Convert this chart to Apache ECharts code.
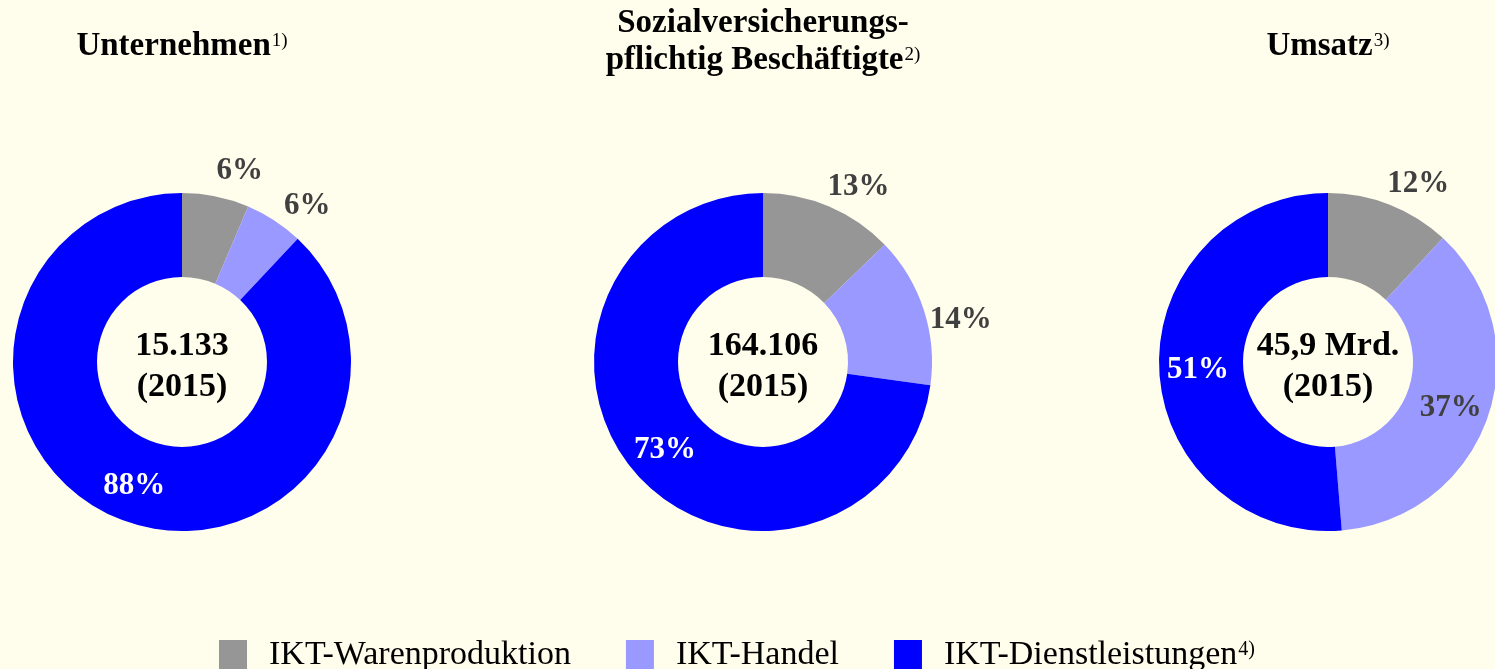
<!DOCTYPE html>
<html>
<head>
<meta charset="utf-8">
<script src="https://cdn.jsdelivr.net/npm/echarts@6/dist/echarts.min.js"></script>
<style>
html, body { margin: 0; padding: 0; background: #FFFDEB; }
#chart { width: 1495px; height: 669px; }
</style>
</head>
<body>
<div id="chart"></div>
<script>
// Kategorien und Anteile (in %)
const categories = ['IKT-Warenproduktion', 'IKT-Handel', 'IKT-Dienstleistungen']
const categoryNotes = ['', '', '4)']
const unternehmen = [6.4, 5.6, 88.0]
const beschaeftigte = [12.8, 14.4, 72.8]
const umsatz = [11.9, 36.8, 51.3]

const panelTitles = ['Unternehmen', 'Sozialversicherungs-\npflichtig Beschäftigte', 'Umsatz']
const panelNotes = ['1)', '2)', '3)']
const centerTexts = ['15.133\n(2015)', '164.106\n(2015)', '45,9 Mrd.\n(2015)']

// welche Anteile stehen außerhalb des Rings
const outsideLabels = [
    [true, true, false],
    [true, true, false],
    [true, false, false]
]

const colors = ['#969696', '#9999FF', '#0000FF']
const insideLabelColors = ['#404040', '#404040', '#FFFFFF']
const font = "'Liberation Serif', 'Times New Roman', serif"
const centersX = [182, 763, 1328]
const centerY = 362
const titleTops = [28, 5, 28]

const panelValues = [unternehmen, beschaeftigte, umsatz]

function pct(params) {
    return Math.round(params.value) + '%'
}

let titles = []
let series = []
panelValues.forEach((values, k) => {
    let lines = panelTitles[k].split('\n').map(l => '{b|' + l + '}')
    lines[lines.length - 1] += '{sup|' + panelNotes[k] + '}'
    titles.push({
        text: lines.join('\n'),
        left: centersX[k],
        top: titleTops[k],
        textAlign: 'center',
        padding: 0,
        textStyle: {
            rich: {
                b: { fontSize: 33, fontWeight: 'bold', lineHeight: 37, color: '#000', fontFamily: font },
                sup: { fontSize: 19, fontWeight: 'normal', lineHeight: 19, verticalAlign: 'top', color: '#000', fontFamily: font, padding: [4, 0, 0, 1] }
            }
        }
    })
    titles.push({
        text: centerTexts[k],
        left: centersX[k],
        top: centerY + 5,
        textAlign: 'center',
        textVerticalAlign: 'middle',
        padding: 0,
        textStyle: { fontSize: 34, fontWeight: 'bold', lineHeight: 41, color: '#000', fontFamily: font }
    })
    series.push({
        type: 'pie',
        center: [centersX[k], centerY],
        radius: [85, 169],
        startAngle: 90,
        silent: true,
        avoidLabelOverlap: false,
        labelLine: { show: false },
        label: { position: 'inside', formatter: pct, fontSize: 31, fontWeight: 'bold', fontFamily: font, offset: [0, 3] },
        data: categories.map((name, i) => ({
            name: name,
            value: values[i],
            itemStyle: { color: colors[i] },
            label: { show: !outsideLabels[k][i], color: insideLabelColors[i] }
        }))
    })
    // unsichtbarer Ring nur für die äußeren Beschriftungen
    series.push({
        type: 'pie',
        center: [centersX[k], centerY],
        radius: [169, 231],
        startAngle: 85,
        silent: true,
        avoidLabelOverlap: false,
        labelLine: { show: false },
        itemStyle: { color: 'rgba(0,0,0,0)' },
        label: { position: 'inside', formatter: pct, fontSize: 31, fontWeight: 'bold', fontFamily: font, color: '#404040', offset: [0, 4] },
        data: categories.map((name, i) => ({
            name: name,
            value: values[i],
            label: { show: outsideLabels[k][i] }
        }))
    })
})

let option = {
    backgroundColor: '#FFFDEB',
    animation: false,
    title: titles,
    legend: {
        data: categories,
        left: 214,
        top: 633,
        icon: 'rect',
        itemWidth: 28,
        itemHeight: 30,
        itemGap: 55,
        selectedMode: false,
        formatter: name => {
            let note = categoryNotes[categories.indexOf(name)]
            return '{t|' + name + '}' + (note ? '{sup|' + note + '}' : '')
        },
        textStyle: {
            padding: [0, 0, 0, 17],
            rich: {
                t: { fontSize: 34, lineHeight: 30, color: '#000', fontFamily: font },
                sup: { fontSize: 20, lineHeight: 20, verticalAlign: 'top', color: '#000', fontFamily: font, padding: [0, 0, 0, 1] }
            }
        }
    },
    series: series
}

let chart = echarts.init(document.getElementById('chart'))
chart.setOption(option)
window.addEventListener('resize', () => {
    chart.resize()
})
</script>
</body>
</html>
